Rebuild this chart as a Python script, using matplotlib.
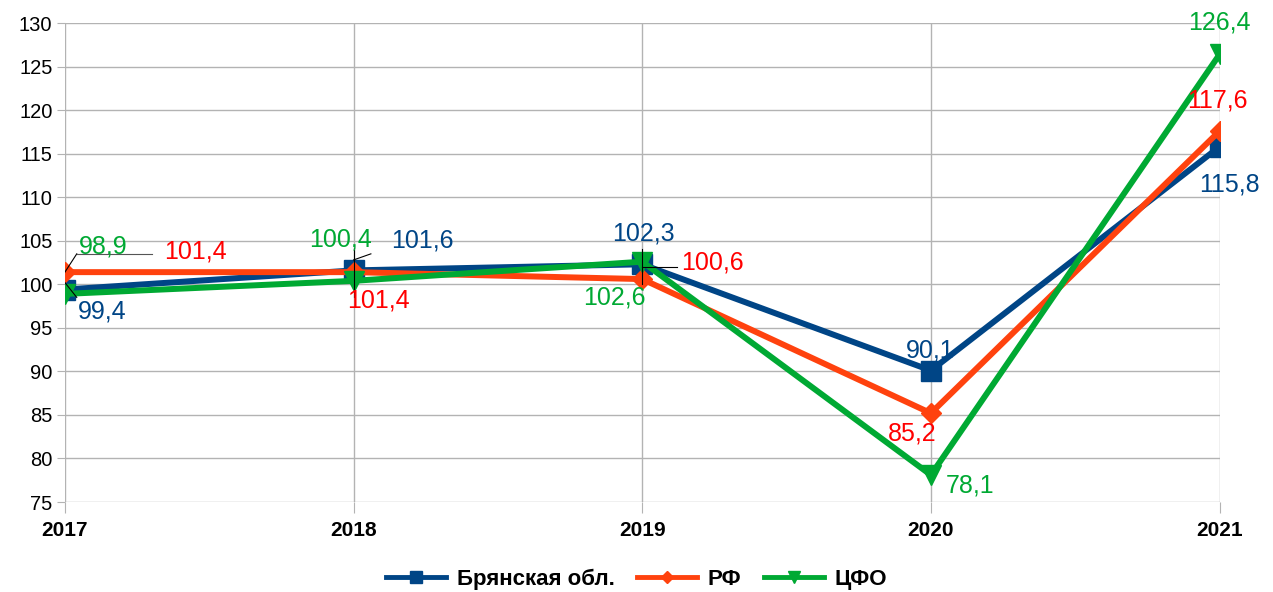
import matplotlib.pyplot as plt

plt.rcParams['font.family'] = ['Liberation Sans', 'DejaVu Sans']

years = ['2017', '2018', '2019', '2020', '2021']
bryansk = [99.4, 101.6, 102.3, 90.1, 115.8]
rf = [101.4, 101.4, 100.6, 85.2, 117.6]
cfo = [98.9, 100.4, 102.6, 78.1, 126.4]

series = [
    ('Брянская обл.', bryansk, '#004586', '#004586', 's', 14),
    ('РФ', rf, '#ff420e', '#ff0000', 'D', 10),
    ('ЦФО', cfo, '#00a933', '#00a933', 'v', 14),
]

# label offsets in pixels (dx, dy) for each point
offsets = {
    'Брянская обл.': [(37, -22), (69, 30), (1, 31), (-1, 20), (10, -38)],
    'РФ': [(131, 21), (25, -28), (70, 17), (-19, -20), (-2, 31)],
    'ЦФО': [(38, 47), (-13, 41), (-28, -36), (39, -10), (0, 32)],
}

fig = plt.figure(figsize=(12.73, 5.92), dpi=100)
ax = fig.add_axes([0.051, 0.152, 0.907, 0.809])

x = list(range(len(years)))
for name, vals, c, tc, m, ms in series:
    ax.plot(x, vals, color=c, lw=4.3, marker=m, markersize=ms, label=name,
            solid_joinstyle='miter', zorder=3)

for name, vals, c, tc, m, ms in series:
    for i, v in enumerate(vals):
        lbl = f'{v:.1f}'.replace('.', ',')
        dx, dy = offsets[name][i]
        ax.annotate(lbl, (i, v), xytext=(dx, dy), textcoords='offset pixels',
                    ha='center', va='center', fontsize=18, color=tc, zorder=5)

# leader lines
ax.plot([0, 0.041], [101.4, 103.5], color='black', lw=0.8, zorder=4)
ax.plot([0.041, 0.30], [103.5, 103.5], color='#555555', lw=0.8, zorder=4)
ax.plot([0, 0.041], [100.2, 98.5], color='black', lw=0.8, zorder=4)
ax.plot([1, 1.06], [102.8, 103.5], color='black', lw=0.8, zorder=4)
ax.plot([1, 1], [98.5, 104.2], color='black', lw=0.8, zorder=4)
ax.plot([2, 2], [100.0, 104.0], color='black', lw=0.8, zorder=4)
ax.plot([2, 2.12], [102.0, 102.0], color='black', lw=0.8, zorder=4)

ax.set_xlim(0, 4)
ax.set_ylim(75, 130)
ax.set_yticks(range(75, 131, 5))
ax.set_xticks(x)
ax.set_xticklabels(years, fontweight='bold', fontsize=15)
ax.tick_params(axis='y', labelsize=14.5, length=6, color='#b3b3b3', pad=3)
ax.tick_params(axis='x', length=8, color='#b3b3b3', pad=6)
ax.grid(True, color='#b3b3b3', lw=1)
ax.set_axisbelow(True)
for s in ax.spines.values():
    s.set_visible(False)

leg = fig.legend(loc='lower center', bbox_to_anchor=(0.5, -0.03), ncol=3, frameon=False,
                 prop={'weight': 'bold', 'size': 16}, handlelength=2.7,
                 columnspacing=1.0, handletextpad=0.5, markerscale=0.65)
for h in leg.legend_handles:
    h.set_linewidth(3.5)

fig.savefig('out.png', dpi=100)
